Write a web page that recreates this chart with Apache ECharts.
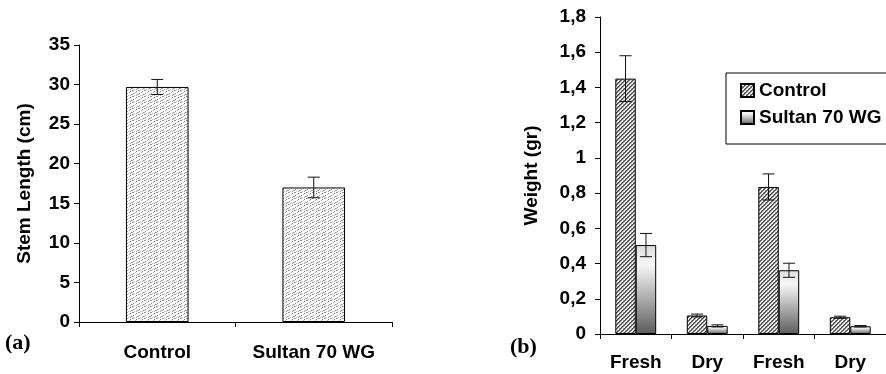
<!DOCTYPE html>
<html>
<head>
<meta charset="utf-8">
<script src="https://cdn.jsdelivr.net/npm/echarts@6/dist/echarts.min.js"></script>
<style>
  html, body { margin: 0; padding: 0; background: #fff; }
  #chart { width: 886px; height: 374px; }
</style>
</head>
<body>
<div id="chart"></div>
<script>
    "use strict";

    // (a) stem length
    var catsA = ['Control', 'Sultan 70 WG'];
    var stemMean = [29.7, 17.0];
    var stemErr = [0.95, 1.3];

    // (b) weights
    var catsB = ['Fresh', 'Dry', 'Fresh', 'Dry'];
    var controlW = [1.45, 0.105, 0.835, 0.095];
    var controlErr = [0.13, 0.008, 0.074, 0.006];
    var sultanW = [0.505, 0.046, 0.362, 0.044];
    var sultanErr = [0.066, 0.006, 0.04, 0.004];

    var font = '"Liberation Sans", Arial, sans-serif';

    // fill textures
    function makeTile(size, bg, dots) {
        var c = document.createElement('canvas');
        c.width = size; c.height = size;
        var ctx = c.getContext('2d');
        ctx.fillStyle = bg;
        ctx.fillRect(0, 0, size, size);
        dots.forEach(function (d) {
            ctx.fillStyle = d[2];
            ctx.fillRect(d[0], d[1], 1, 1);
        });
        return c;
    }
    // light stipple for (a)
    var stipple = makeTile(6, '#ffffff', [
        [0, 0, '#8c8c8c'], [1, 0, '#a8a8a8'], [4, 1, '#7a7a7a'],
        [3, 2, '#b4b4b4'], [1, 3, '#909090'], [0, 4, '#b0b0b0'],
        [5, 4, '#8a8a8a'], [4, 5, '#a0a0a0'], [2, 5, '#c0c0c0']
    ]);
    // dark diagonal hatch for (b) control
    var hatchDots = [];
    for (var yy = 0; yy < 4; yy++) {
        for (var xx = 0; xx < 4; xx++) {
            var k = (xx + yy) % 4;
            if (k === 0) hatchDots.push([xx, yy, '#4a4a4a']);
            else if (k === 1) hatchDots.push([xx, yy, '#7c7c7c']);
            else if (k === 3 && yy % 2 === 0) hatchDots.push([xx, yy, '#b8b8b8']);
        }
    }
    var hatch = makeTile(4, '#f2f2f2', hatchDots);

    var sultanFill = new echarts.graphic.LinearGradient(0, 0, 0, 1, [
        { offset: 0, color: '#dcdcdc' },
        { offset: 0.22, color: '#f7f7f7' },
        { offset: 1, color: '#5c5c5c' }
    ]);

    function errRender(shiftFrac) {
        return function (params, api) {
            var i = api.value(0);
            var band = api.size([1, 0])[0];
            var hi = api.coord([i, api.value(2)]);
            var lo = api.coord([i, api.value(1)]);
            var x = hi[0] + band * shiftFrac;
            var w = 6;
            var st = { stroke: '#111', lineWidth: 1 };
            return {
                type: 'group',
                children: [
                    { type: 'line', shape: { x1: x, y1: hi[1], x2: x, y2: lo[1] }, style: st },
                    { type: 'line', shape: { x1: x - w, y1: hi[1], x2: x + w, y2: hi[1] }, style: st },
                    { type: 'line', shape: { x1: x - w, y1: lo[1], x2: x + w, y2: lo[1] }, style: st }
                ]
            };
        };
    }

    function errData(mean, err) {
        return mean.map(function (m, i) { return [i, m - err[i], m + err[i]]; });
    }

    var labelStyle = { color: '#000', fontFamily: font, fontWeight: 'bold', fontSize: 19 };
    var axisLine = { show: true, lineStyle: { color: '#000', width: 1 } };

    var chart = echarts.init(document.getElementById('chart'));
    chart.setOption({
        animation: false,
        backgroundColor: '#fff',
        grid: [
            { left: 79, top: 45, width: 313, height: 277 },
            { left: 600, top: 17, width: 289, height: 317 }
        ],
        legend: {
            data: ['Control', 'Sultan 70 WG'],
            orient: 'vertical',
            left: 726,
            top: 73,
            icon: 'rect',
            itemWidth: 13,
            itemHeight: 13,
            itemGap: 8,
            padding: [8, 40, 17, 14],
            borderColor: '#000',
            borderWidth: 1,
            textStyle: labelStyle
        },
        xAxis: [
            {
                type: 'category', gridIndex: 0, data: catsA,
                axisLine: axisLine,
                axisTick: { show: true, length: 5, lineStyle: { color: '#000' } },
                axisLabel: Object.assign({ margin: 21, interval: 0, hideOverlap: false }, labelStyle)
            },
            {
                type: 'category', gridIndex: 1, data: catsB,
                axisLine: axisLine,
                axisTick: { show: true, length: 5, lineStyle: { color: '#000' } },
                axisLabel: Object.assign({ margin: 19, interval: 0, hideOverlap: false }, labelStyle)
            }
        ],
        yAxis: [
            {
                type: 'value', gridIndex: 0, min: 0, max: 35, interval: 5,
                name: 'Stem Length (cm)', nameLocation: 'middle', nameGap: 45,
                nameTextStyle: labelStyle,
                axisLine: axisLine,
                axisTick: { show: true, length: 5, lineStyle: { color: '#000' } },
                splitLine: { show: false },
                axisLabel: Object.assign({ margin: 9 }, labelStyle)
            },
            {
                type: 'value', gridIndex: 1, min: 0, max: 1.8, interval: 0.2,
                name: 'Weight (gr)', nameLocation: 'middle', nameGap: 59,
                nameTextStyle: labelStyle,
                axisLine: axisLine,
                axisTick: { show: true, length: 5, lineStyle: { color: '#000' } },
                splitLine: { show: false },
                axisLabel: Object.assign({
                    margin: 14,
                    formatter: function (v) { return String(+v.toFixed(1)).replace('.', ','); }
                }, labelStyle)
            }
        ],
        series: [
            {
                name: 'Stem Length', type: 'bar', xAxisIndex: 0, yAxisIndex: 0,
                data: stemMean, barWidth: '40%',
                itemStyle: { color: { image: stipple, repeat: 'repeat' }, borderColor: '#000', borderWidth: 1 }
            },
            {
                name: 'Stem err', type: 'custom', xAxisIndex: 0, yAxisIndex: 0,
                data: errData(stemMean, stemErr), encode: { x: 0, y: [1, 2] },
                renderItem: errRender(0), z: 5
            },
            {
                name: 'Control', type: 'bar', xAxisIndex: 1, yAxisIndex: 1,
                data: controlW, barWidth: '28.6%', barGap: '0%',
                itemStyle: { color: { image: hatch, repeat: 'repeat' }, borderColor: '#000', borderWidth: 1 }
            },
            {
                name: 'Sultan 70 WG', type: 'bar', xAxisIndex: 1, yAxisIndex: 1,
                data: sultanW, barWidth: '28.6%', barGap: '0%',
                itemStyle: { color: sultanFill, borderColor: '#000', borderWidth: 1 }
            },
            {
                name: 'Control err', type: 'custom', xAxisIndex: 1, yAxisIndex: 1,
                data: errData(controlW, controlErr), encode: { x: 0, y: [1, 2] },
                renderItem: errRender(-0.143), z: 5
            },
            {
                name: 'Sultan err', type: 'custom', xAxisIndex: 1, yAxisIndex: 1,
                data: errData(sultanW, sultanErr), encode: { x: 0, y: [1, 2] },
                renderItem: errRender(0.143), z: 5
            }
        ],
        graphic: [
            { type: 'text', left: 5, top: 332, style: { text: '(a)', fill: '#000', font: 'bold 22px "Liberation Serif", serif' } },
            { type: 'text', left: 510, top: 336, style: { text: '(b)', fill: '#000', font: 'bold 22px "Liberation Serif", serif' } }
        ]
    });
</script>
</body>
</html>
